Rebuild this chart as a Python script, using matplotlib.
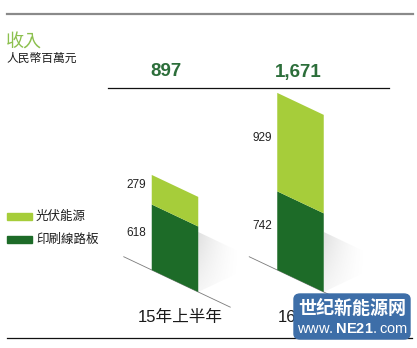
import numpy as np
import matplotlib
matplotlib.use("Agg")
import matplotlib.pyplot as plt
from matplotlib.transforms import Affine2D
from matplotlib.patches import Rectangle, Polygon, FancyBboxPatch

plt.rcParams["font.family"] = ["Liberation Sans", "Noto Sans CJK TC", "DejaVu Sans"]
plt.rcParams["mathtext.fontset"] = "custom"
plt.rcParams["mathtext.rm"] = "Liberation Sans"
plt.rcParams["mathtext.bf"] = "Liberation Sans:bold"
CJK = ["Noto Sans CJK TC", "DejaVu Sans"]

# -----------------------------
# DATA (人民幣百萬元)
# -----------------------------
periods = ["15年上半年", "16年上半年"]
pcb = [618, 742]          # 印刷線路板
solar = [279, 929]        # 光伏能源
totals = ["897", "1,671"]

light = "#a6cd3a"
dark = "#1d6b28"
green_txt = "#2c6e3a"

W, H = 417, 348
fig = plt.figure(figsize=(W / 100, H / 100), dpi=100)
ax = fig.add_axes([0, 0, 1, 1])
ax.axis("off")

# pixel scale of the plotting frame
px_x = 125.5     # px per category step
px_v = 0.106     # px per value unit
x0_px, base_px = 175, 270
ax.set_xlim(-x0_px / px_x, (W - x0_px) / px_x)
ax.set_ylim(-(H - base_px) / px_v, base_px / px_v)

def fx(x):
    return x / W

def fy(y):
    return 1 - y / H

# slanted bars: shear each bar about its own left edge
width = 46.5 / px_x
k = (22 / 46.5) * px_x / px_v

def shear(xl):
    return Affine2D.from_values(1, -k, 0, 1, 0, k * xl) + ax.transData

pos = np.arange(len(periods))

# soft shadows behind the bars
grad = np.zeros((60, 60, 4))
gx = np.linspace(0, 1, 60)[None, :]
gy = np.linspace(0, 1, 60)[:, None]
grad[..., :3] = 0.6
grad[..., 3] = 0.32 * (1 - gx) ** 1.5 * (0.3 + 0.7 * gy)
for i in pos:
    xr = i + width / 2
    yb = -k * width
    sw, sh = 42 / px_x, 64 / px_v
    im = ax.imshow(grad, extent=(xr, xr + sw, yb, yb + sh), origin="lower",
                   aspect="auto", zorder=1, interpolation="bilinear")
    clip = Polygon([(xr, yb), (xr, yb + 60 / px_v), (xr + sw, yb + 40 / px_v),
                    (xr + sw, yb + 20 / px_v)], closed=True, transform=ax.transData)
    im.set_clip_path(clip)

bars_pcb = ax.bar(pos, pcb, width=width, color=dark, zorder=3)
bars_solar = ax.bar(pos, solar, width=width, bottom=pcb, color=light, zorder=3)

for i, (b1, b2) in enumerate(zip(bars_pcb, bars_solar)):
    xl = b1.get_x()
    b1.set_transform(shear(xl))
    b2.set_transform(shear(xl))
    # floor line behind the bar
    ax.plot([xl - 28 / px_x, xl + width + 32 / px_x], [0, 0], color="#7a7a7a",
            lw=0.6, zorder=2, transform=shear(xl))
    # segment values at the left edge
    ax.annotate(str(pcb[i]), (xl, pcb[i] / 2 + 40), xytext=(-4, 0),
                textcoords="offset points", ha="right", va="center",
                fontsize=8.5, color="#222222")
    ax.annotate(str(solar[i]), (xl, pcb[i] + solar[i] / 2 + 40), xytext=(-4, 0),
                textcoords="offset points", ha="right", va="center",
                fontsize=8.5, color="#222222")

# totals above the rule
for i, t in enumerate(totals):
    ax.text(pos[i] - [0.07, 0.02][i], (base_px - 72) / px_v, t, ha="center",
            va="center", fontsize=13.5, color=green_txt, fontweight="semibold")

# period labels
for i, p in enumerate(periods):
    ax.text(pos[i] + [0.045, 0.16][i], (base_px - 317) / px_v, p, ha="center",
            va="center", fontsize=12, color="#1a1a1a")

# rules
fig.add_artist(plt.Line2D([fx(7), fx(413)], [fy(14), fy(14)], color="#8a8a8a", lw=1.6))
fig.add_artist(plt.Line2D([fx(108), fx(389)], [fy(88), fy(88)], color="#111111", lw=0.9))
fig.add_artist(plt.Line2D([fx(7), fx(412)], [fy(338), fy(338)], color="#111111", lw=0.9))

# title
fig.text(fx(6), fy(43), "收入", family=CJK, fontsize=13, color="#8cc04e", va="center")
fig.text(fx(6), fy(58), "人民幣百萬元", family=CJK, fontsize=8.5, color="#1a1a1a", va="center")

# legend
for yc, c, lab in [(216, light, "光伏能源"), (239, dark, "印刷線路板")]:
    fig.add_artist(Rectangle((fx(7), fy(yc + 3.5)), 25 / W, 7 / H, color=c,
                             transform=fig.transFigure))
    fig.text(fx(36), fy(yc), lab, family=CJK, fontsize=9, color="#1a1a1a", va="center")

# site badge
fig.add_artist(FancyBboxPatch((fx(294), fy(339)), 116 / W, 45 / H,
                              boxstyle="round,pad=0,rounding_size=0.015",
                              color="#3d6ea8", transform=fig.transFigure, zorder=5))
fig.text(fx(352), fy(308), "世纪新能源网", family=CJK, fontsize=13, fontweight="bold",
         color="white", ha="center", va="center", zorder=6)
fig.text(fx(352), fy(329), r"$\mathrm{www.}\mathbf{NE21}\mathrm{.com}$", fontsize=10.5,
         color="white", ha="center", va="center", zorder=6)

fig.savefig("out.png", dpi=100)
